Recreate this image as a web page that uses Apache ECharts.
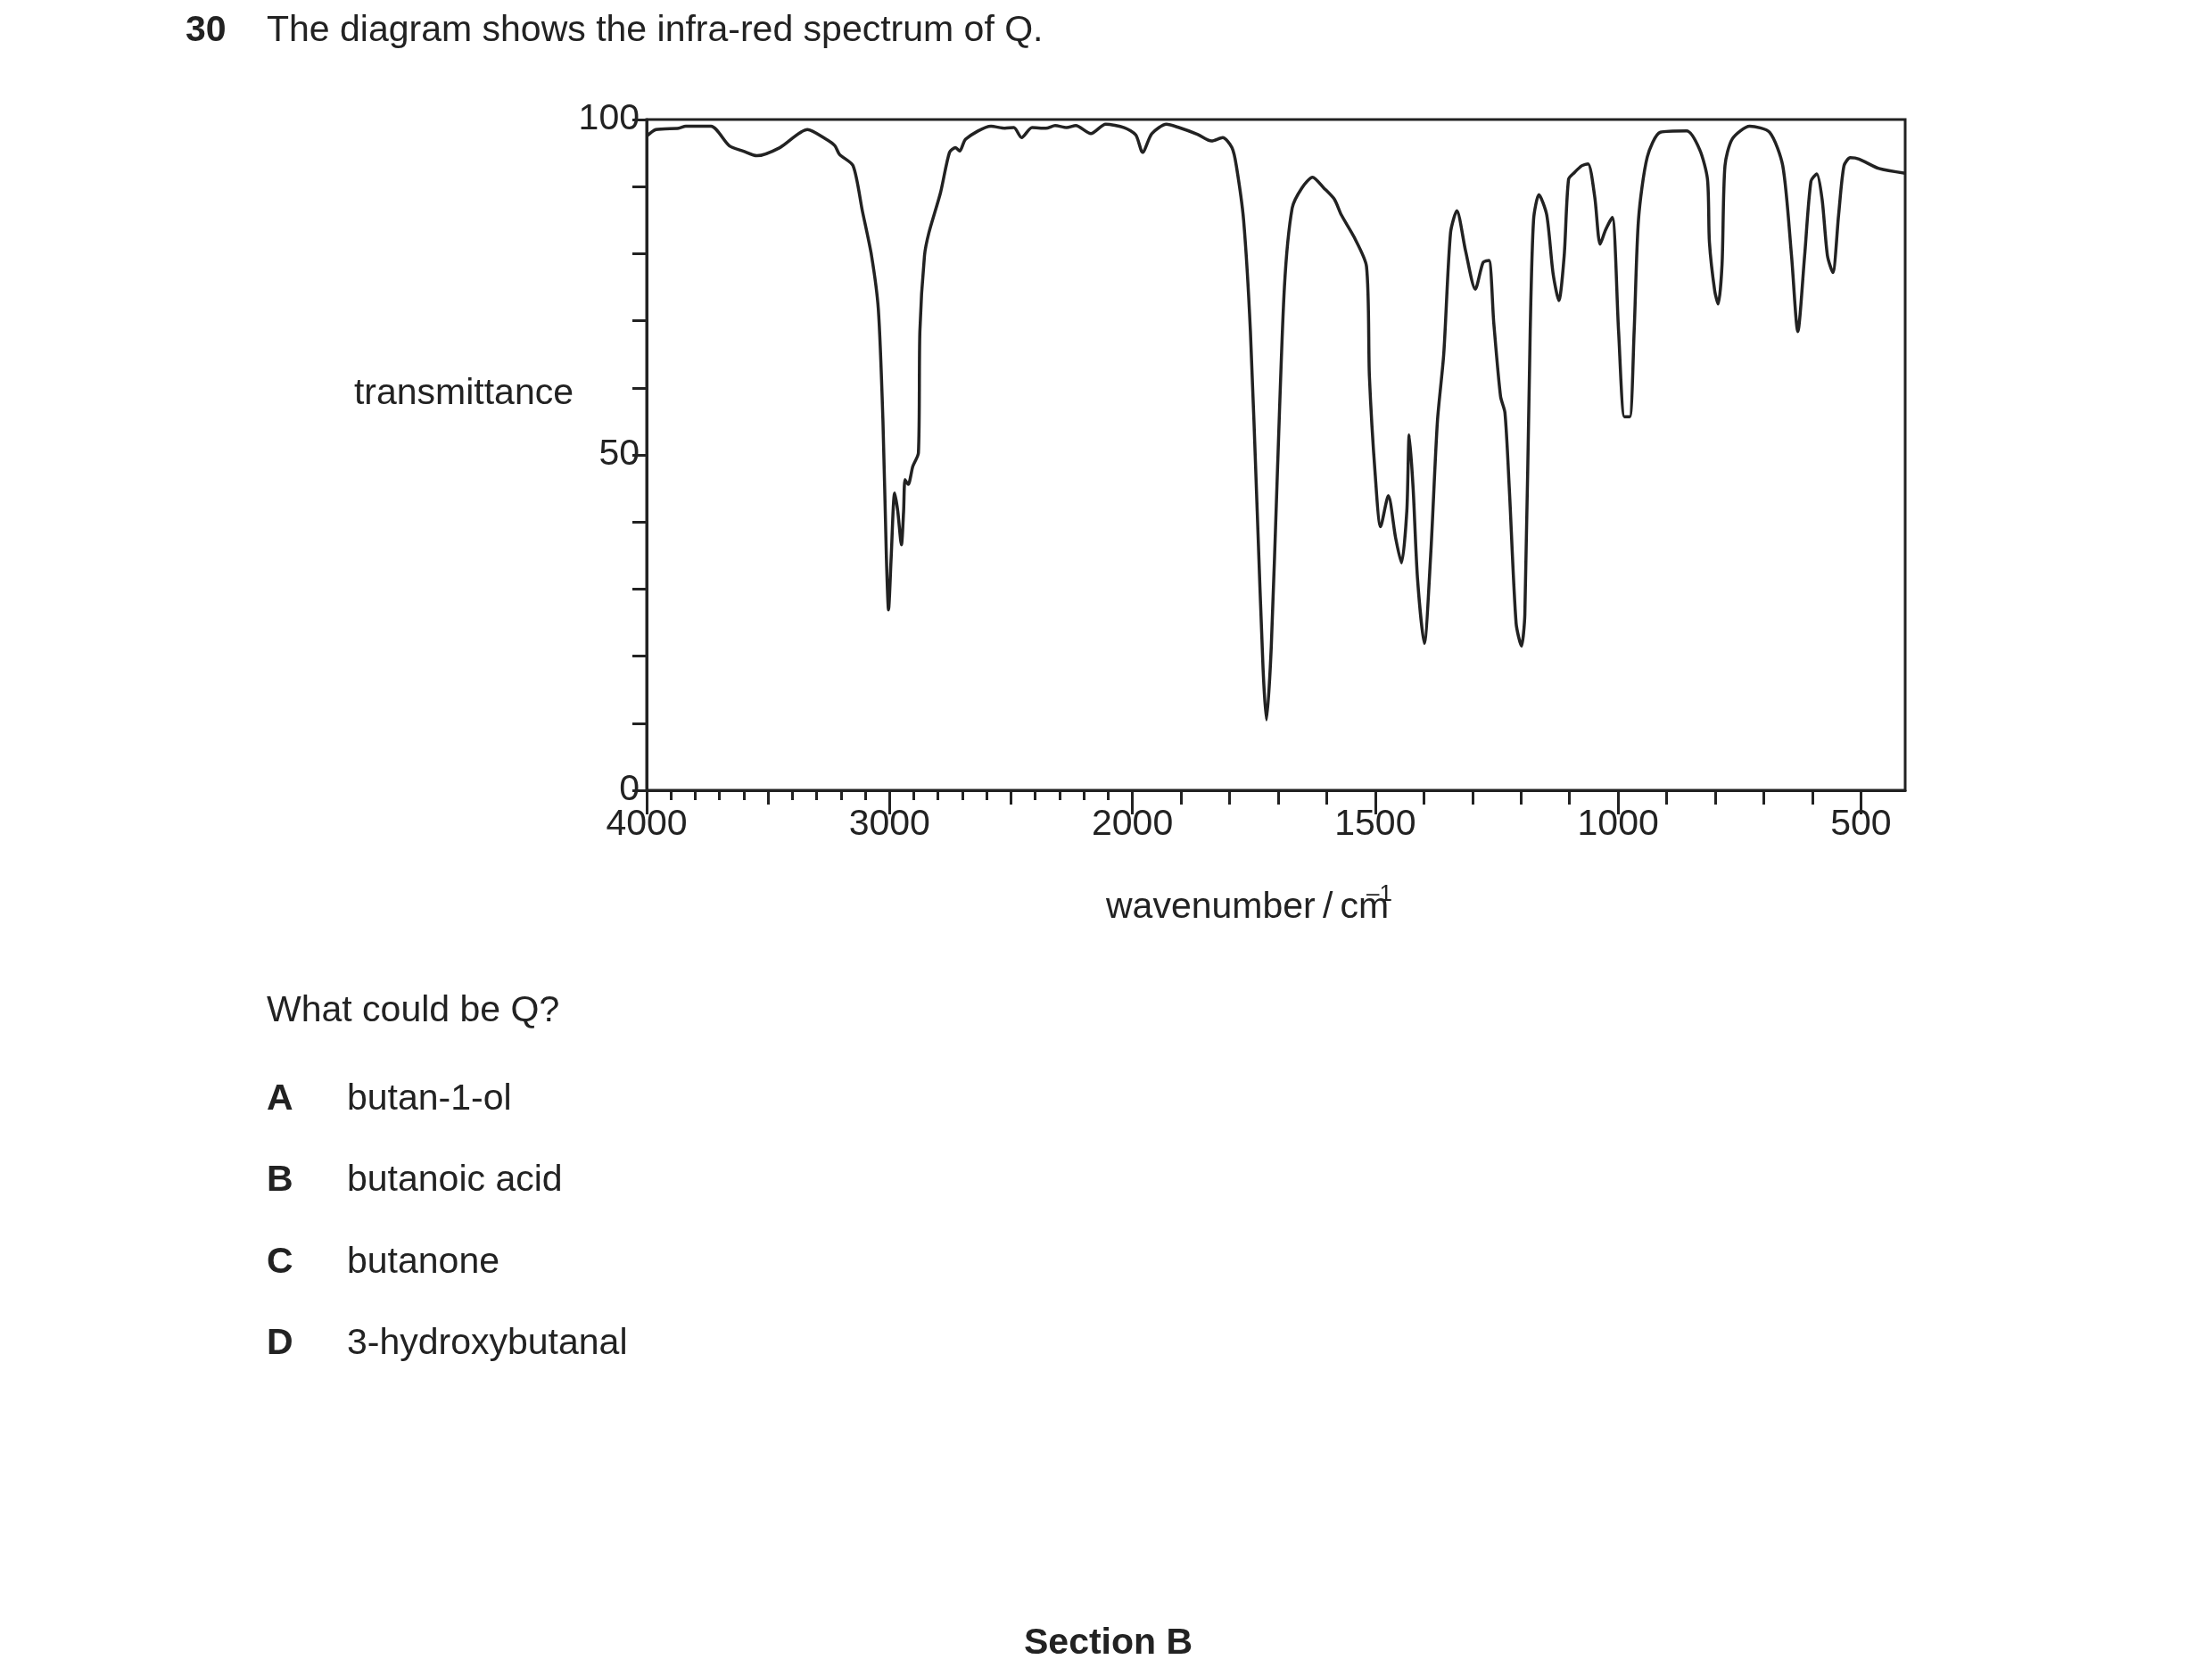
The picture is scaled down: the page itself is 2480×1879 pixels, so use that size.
<!DOCTYPE html>
<html><head><meta charset="utf-8">
<script src="https://cdn.jsdelivr.net/npm/echarts@6/dist/echarts.min.js"></script>
<style>html,body{margin:0;padding:0;background:#fff}#c{width:2480px;height:1879px}</style>
</head><body><div id="c"></div>
<script>
const wavenumbers = [4000,3962,3868,3839,3735,3660,3603,3546,3452,3338,3263,3225,3206,3150,3112,3074,3046,3027,3013,3004,2993,2979,2966,2951,2942,2936,2923,2904,2881,2875,2856,2838,2790,2753,2728,2711,2686,2582,2525,2488,2456,2413,2356,2318,2271,2233,2171,2110,2034,1993,1979,1960,1930,1904,1866,1837,1814,1795,1786,1771,1757,1743,1731,1724,1714,1701,1687,1671,1651,1629,1606,1584,1570,1543,1518,1512,1500,1489,1473,1458,1446,1435,1430,1422,1413,1399,1386,1372,1359,1345,1332,1314,1294,1278,1266,1256,1242,1233,1224,1210,1199,1192,1181,1174,1163,1147,1134,1122,1111,1102,1090,1075,1062,1048,1037,1026,1012,999,987,976,967,958,940,913,859,832,816,812,801,794,786,780,765,729,688,661,643,630,616,603,591,580,569,558,546,535,522,504,463,409];
const transmittance = [97.5,98.5,98.7,99,99,96.1,95.3,94.6,95.8,98.5,97.1,96.1,94.8,93.1,86.4,79.7,71.7,55,34.9,26.9,34.9,44.3,41.6,36.6,41.6,46.3,45.6,48.3,50.3,68.4,79.7,83.1,89.1,95.1,95.8,95.3,97.1,99,98.7,98.8,97.3,98.8,98.7,99.1,98.8,99.1,97.9,99.3,98.8,97.7,95.1,97.9,99.3,98.8,97.8,96.8,97.3,95.8,93.1,85,68.4,41.6,18.2,10.5,21.5,48.3,75,86.8,89.8,91.4,89.8,88.1,85.8,82.4,78.1,61.7,47,39.3,43.9,37.6,33.9,41.6,53,45,31.6,21.9,34.9,55,65,83.1,86.4,80.4,74.7,78.7,79,69.7,58.7,56.3,45,24.9,21.5,26.2,68.4,85.1,88.8,85.8,77.1,73,79.7,91.1,92.1,93.1,93.4,88.4,81.4,83.5,85.4,68.4,55.7,55.7,68.4,85.1,94.4,98.1,98.3,95.5,91.1,81.7,74.4,72.5,78.4,93.1,97.1,99,98.1,93.1,79.7,68.4,79.7,90.8,91.9,88.1,79.7,77.2,85.8,93.1,94.3,94.1,92.7,92];
const xLabelValues = [4000,3000,2000,1500,1000,500];
const yLabelValues = [0,50,100];

// IR axis: 4000-2000 at half scale, 2000-400 full scale
function toU(w){ return w >= 2000 ? (4000 - w) / 2 : 1000 + (2000 - w); }
function fromU(u){ return u <= 1000 ? 4000 - 2*u : 2000 - (u - 1000); }

const shortW=[], medW=[], longW=xLabelValues.slice();
for (let w=3900; w>2000; w-=100){ if (w!==3000 && w!==3500 && w!==2500) shortW.push(w); }
medW.push(3500,2500);
for (let w=1900; w>=409; w-=100){ if (w!==1500 && w!==1000 && w!==500) medW.push(w); }

const data = wavenumbers.map((w,i)=>[toU(w), transmittance[i]]);
const F = 'Liberation Sans, Arial, sans-serif';
const umax = toU(409);
const baseX = {type:'value', min:0, max:umax, position:'bottom', splitLine:{show:false}, axisLine:{show:false}};
const chart = echarts.init(document.getElementById('c'));
chart.setOption({
  animation:false,
  grid:{left:725, top:134, width:1411, height:752, show:true, borderColor:'#222', borderWidth:3},
  xAxis:[
    Object.assign({}, baseX, {axisLine:{show:true, lineStyle:{color:'#222', width:3}},
      axisTick:{show:true, length:27, lineStyle:{color:'#222', width:3}, customValues:longW.map(toU)},
      axisLabel:{show:true, customValues:xLabelValues.map(toU), formatter:v=>String(Math.round(fromU(v))), fontSize:41, fontFamily:F, color:'#222', margin:18}}),
    Object.assign({}, baseX, {axisTick:{show:true, length:16, lineStyle:{color:'#222', width:3}, customValues:medW.map(toU)}, axisLabel:{show:false}}),
    Object.assign({}, baseX, {axisTick:{show:true, length:11, lineStyle:{color:'#222', width:3}, customValues:shortW.map(toU)}, axisLabel:{show:false}})
  ],
  yAxis:[{type:'value', min:0, max:100, interval:10, splitLine:{show:false},
    axisLine:{show:true, lineStyle:{color:'#222', width:3}},
    axisTick:{show:true, length:16, lineStyle:{color:'#222', width:3}},
    axisLabel:{fontSize:41, fontFamily:F, color:'#222', margin:8, formatter:v=>yLabelValues.includes(v)?String(v):''}}],
  series:[{type:'line', data:data, smooth:0.25, showSymbol:false, xAxisIndex:0,
    lineStyle:{color:'#222', width:3.5}}],
  graphic:[
    {type:'text', left:208, top:14, style:{text:'30', font:'bold 41px '+F, fill:'#222'}},
    {type:'text', left:299, top:14, style:{text:'The diagram shows the infra-red spectrum of Q.', font:'41px '+F, fill:'#222'}},
    {type:'text', right:2480-643, top:421, style:{text:'transmittance', font:'41px '+F, fill:'#222'}},
    {type:'text', left:1240, top:997, style:{text:'wavenumber\u2009/\u2009cm', font:'41px '+F, fill:'#222'}},
    {type:'text', left:1532, top:990, style:{text:'\u20131', font:'26px '+F, fill:'#222'}},
    {type:'text', left:299, top:1113, style:{text:'What could be Q?', font:'41px '+F, fill:'#222'}},
    {type:'text', left:299, top:1212, style:{text:'A', font:'bold 41px '+F, fill:'#222'}},
    {type:'text', left:389, top:1212, style:{text:'butan-1-ol', font:'41px '+F, fill:'#222'}},
    {type:'text', left:299, top:1303, style:{text:'B', font:'bold 41px '+F, fill:'#222'}},
    {type:'text', left:389, top:1303, style:{text:'butanoic acid', font:'41px '+F, fill:'#222'}},
    {type:'text', left:299, top:1395, style:{text:'C', font:'bold 41px '+F, fill:'#222'}},
    {type:'text', left:389, top:1395, style:{text:'butanone', font:'41px '+F, fill:'#222'}},
    {type:'text', left:299, top:1486, style:{text:'D', font:'bold 41px '+F, fill:'#222'}},
    {type:'text', left:389, top:1486, style:{text:'3-hydroxybutanal', font:'41px '+F, fill:'#222'}},
    {type:'text', left:1148, top:1822, style:{text:'Section B', font:'bold 41px '+F, fill:'#222'}}
  ]
});
</script></body></html>
